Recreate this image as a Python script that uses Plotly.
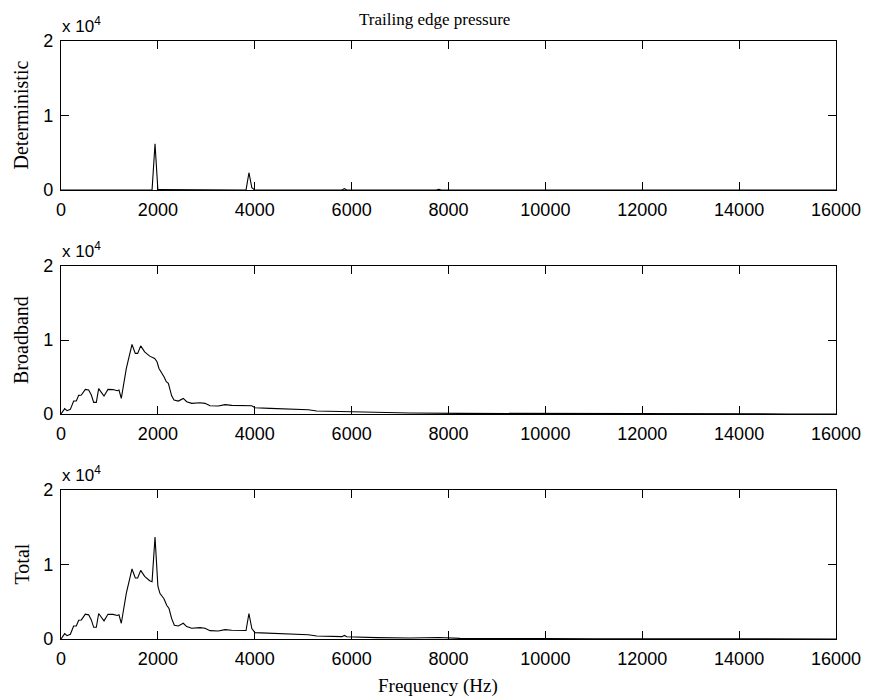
import plotly.graph_objects as go
from plotly.subplots import make_subplots

# ---- data ----
det_freq = [0, 1880, 1941, 2000, 2030, 3820, 3880, 3940, 4000, 5800, 5850, 5900,
            7750, 7800, 7850, 9700, 9750, 9800, 16000]
det_val = [0, 0, 6200, 0, 60, 0, 2320, 300, 0, 0, 180, 0,
           0, 100, 0, 0, 80, 0, 0]

bb_freq = [0, 76, 124, 193, 261, 316, 365, 420, 502, 571, 626, 675, 729, 778, 833,
           888, 970, 1074, 1162, 1197, 1245, 1349, 1466, 1534, 1583, 1645, 1727,
           1831, 1934, 1982, 2023, 2071, 2126, 2174, 2216, 2285, 2333, 2422, 2525,
           2595, 2698, 2870, 2973, 3076, 3248, 3386, 3524, 3937, 4005, 4315, 4796,
           5106, 5278, 5898, 6518, 7205, 8237, 9000, 10000, 11000, 12000, 13000,
           14000, 15000, 16000]
bb_val = [0, 720, 450, 630, 1750, 1750, 2520, 2560, 3330, 3240, 2560, 1570, 1570,
          3420, 2920, 2430, 3330, 3300, 3150, 3240, 2110, 6160, 9400, 8190, 8190,
          9210, 8400, 7820, 7510, 7060, 6160, 5710, 5030, 4360, 4140, 2450, 1890,
          1750, 2110, 1660, 1440, 1530, 1440, 1120, 1080, 1260, 1170, 1120, 850,
          760, 630, 580, 400, 310, 180, 135, 90, 70, 50, 35, 25, 15, 10, 5, 3]

tot_freq = [0, 76, 124, 193, 261, 316, 365, 420, 502, 571, 626, 675, 729, 778, 833,
            888, 970, 1074, 1162, 1197, 1245, 1349, 1466, 1534, 1583, 1645, 1727,
            1831, 1880, 1941, 2000, 2044, 2126, 2182, 2230, 2285, 2340, 2422, 2525,
            2595, 2698, 2870, 2973, 3076, 3248, 3386, 3524, 3820, 3880, 3940, 4005,
            4315, 4796, 5106, 5278, 5800, 5850, 5900, 6518, 7205, 7800, 8237, 9000,
            9750, 10000, 11000, 12000, 13000, 14000, 15000, 16000]
tot_val = [0, 720, 450, 630, 1750, 1750, 2520, 2560, 3330, 3240, 2560, 1570, 1570,
           3420, 2920, 2430, 3330, 3300, 3150, 3240, 2110, 6160, 9400, 8190, 8190,
           9210, 8400, 7820, 7700, 13700, 7100, 6100, 5400, 4530, 4090, 2740, 1840,
           1750, 2110, 1660, 1440, 1530, 1440, 1120, 1080, 1260, 1170, 1140, 3420,
           1400, 850, 760, 630, 580, 400, 320, 480, 300, 180, 135, 210, 90, 70,
           130, 50, 35, 25, 15, 10, 5, 3]

panel_labels = ["Deterministic", "Broadband", "Total"]
x_ticks = [0, 2000, 4000, 6000, 8000, 10000, 12000, 14000, 16000]
x_ticktext = ["0", "2000", "4000", "6000", "8000", "10000", "12000", "14000", "16000"]
y_ticks = [0, 10000, 20000]
y_ticktext = ["0", "1", "2"]
title_text = "Trailing edge pressure"
xlabel_text = "Frequency (Hz)"

series = [(det_freq, det_val), (bb_freq, bb_val), (tot_freq, tot_val)]

# page body has an 8px margin: lay the figure out in window pixels minus that offset
OFF = 8
W, H = 869 - OFF, 700 - OFF
ml, mr = 61 - OFF, 869 - 836
mt, mb = 41 - OFF, 700 - 639
plot_h = H - mt - mb
panel_px = [(41, 190), (266, 414), (490, 639)]  # window pixels

def ypaper(px):
    return (H - mb - (px - OFF)) / plot_h

def xpaper(px):
    return ((px - OFF) - ml) / (W - ml - mr)

fig = make_subplots(rows=3, cols=1)
for i, (fx, fy) in enumerate(series):
    fig.add_trace(go.Scatter(x=fx, y=fy, mode="lines",
                             line=dict(color="black", width=1.1),
                             showlegend=False, hoverinfo="skip"),
                  row=i + 1, col=1)

tick_font = dict(family="Liberation Sans, Arial, sans-serif", size=18, color="black")
serif = "Liberation Serif, Times New Roman, serif"

annotations = []
for i in range(3):
    top, bot = panel_px[i]
    xa = "xaxis" if i == 0 else f"xaxis{i+1}"
    ya = "yaxis" if i == 0 else f"yaxis{i+1}"
    fig.layout[xa].update(domain=[0, 1], range=[0, 16000], tickvals=x_ticks,
                          ticktext=x_ticktext,
                          ticks="inside", ticklen=8, tickcolor="black", tickwidth=1,
                          showline=True, linecolor="black", linewidth=1.3,
                          mirror="ticks", showgrid=False, zeroline=False,
                          tickfont=tick_font, ticklabelstandoff=3)
    fig.layout[ya].update(domain=[ypaper(bot), ypaper(top)], range=[0, 20000],
                          tickvals=y_ticks, ticktext=y_ticktext,
                          ticks="inside", ticklen=8, tickcolor="black", tickwidth=1,
                          showline=True, linecolor="black", linewidth=1.3,
                          mirror="ticks", showgrid=False, zeroline=False,
                          tickfont=tick_font, ticklabelstandoff=3)
    # x 10^4 multiplier
    annotations.append(dict(text="x 10<sup>4</sup>", x=xpaper(60), y=ypaper(top),
                            xref="paper", yref="paper", xanchor="left", yanchor="bottom",
                            yshift=3, showarrow=False,
                            font=dict(family="Liberation Sans, Arial, sans-serif",
                                      size=17, color="black")))
    # y label
    annotations.append(dict(text=panel_labels[i], x=xpaper(21), y=ypaper((top + bot) / 2),
                            xref="paper", yref="paper", xanchor="center", yanchor="middle",
                            textangle=-90, showarrow=False,
                            font=dict(family=serif, size=20, color="black")))

annotations.append(dict(text=title_text, x=xpaper(434.5), y=ypaper(8),
                        xref="paper", yref="paper", xanchor="center", yanchor="top",
                        showarrow=False, font=dict(family=serif, size=17, color="black")))
annotations.append(dict(text=xlabel_text, x=xpaper(438), y=ypaper(686),
                        xref="paper", yref="paper", xanchor="center", yanchor="middle",
                        showarrow=False, font=dict(family=serif, size=19, color="black")))

fig.update_layout(width=W, height=H,
                  margin=dict(l=ml, r=mr, t=mt, b=mb, autoexpand=False),
                  paper_bgcolor="white", plot_bgcolor="white",
                  annotations=annotations, showlegend=False)

fig.write_html("out.html")
